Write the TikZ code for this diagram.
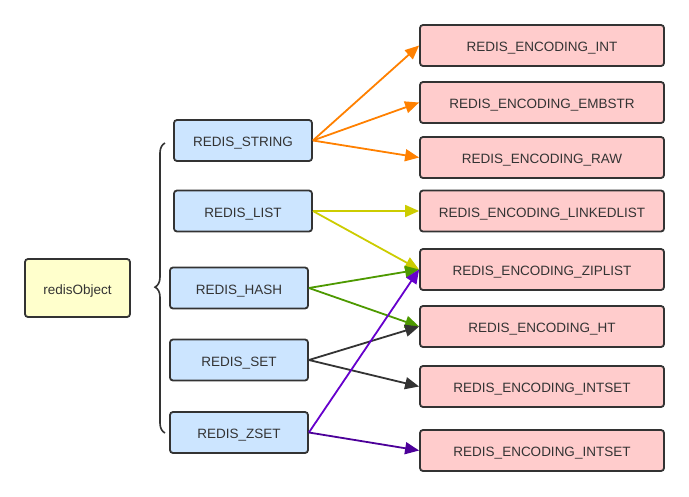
\documentclass[tikz,border=0pt]{standalone}
\usepackage{fontspec}
\setmainfont{Liberation Sans}
\usetikzlibrary{arrows.meta,decorations.pathreplacing}
\definecolor{txt}{HTML}{333333}
\definecolor{bd}{HTML}{333333}
\definecolor{bluef}{HTML}{CCE5FF}
\definecolor{pinkf}{HTML}{FFCCCC}
\definecolor{yelf}{HTML}{FFFFCC}
\definecolor{corange}{HTML}{FF8000}
\definecolor{cyellow}{HTML}{CCCC00}
\definecolor{cgreen}{HTML}{4D9900}
\definecolor{cdark}{HTML}{333333}
\definecolor{cpurple}{HTML}{6600CC}
\definecolor{cdpurple}{HTML}{4C0099}
\tikzset{
  box/.style={draw=bd, line width=1.8pt, rounded corners=3pt, text=txt,
    font=\fontsize{13.5}{15}\selectfont, inner sep=0pt, anchor=center,
    text height=12.4pt, text depth=0pt},
  typebox/.style={box, fill=bluef, minimum width=138pt, minimum height=41pt},
  encbox/.style={box, fill=pinkf, minimum width=244pt, minimum height=41pt},
  objbox/.style={box, fill=yelf, minimum width=105pt, minimum height=58pt},
  conn/.style={line width=1.8pt, -{Triangle[length=14pt,width=12pt]}},
}
\begin{document}
\begin{tikzpicture}[x=1pt,y=-1pt]
\useasboundingbox (0,0) rectangle (689,496);
\node[objbox] (obj) at (77.5,288) {redisObject};

\node[typebox] (str) at (243,140.5) {REDIS\_STRING};
\node[typebox] (lst) at (243,211) {REDIS\_LIST};
\node[typebox] (hash) at (239,288) {REDIS\_HASH};
\node[typebox] (set) at (239,360) {REDIS\_SET};
\node[typebox] (zset) at (239,432.5) {REDIS\_ZSET};

\node[encbox] (int) at (542,45.5) {REDIS\_ENCODING\_INT};
\node[encbox] (emb) at (542,102.5) {REDIS\_ENCODING\_EMBSTR};
\node[encbox] (raw) at (542,157.5) {REDIS\_ENCODING\_RAW};
\node[encbox] (ll) at (542,211) {REDIS\_ENCODING\_LINKEDLIST};
\node[encbox] (zip) at (542,269.5) {REDIS\_ENCODING\_ZIPLIST};
\node[encbox] (ht) at (542,326.5) {REDIS\_ENCODING\_HT};
\node[encbox] (is1) at (542,386.5) {REDIS\_ENCODING\_INTSET};
\node[encbox] (is2) at (542,450.5) {REDIS\_ENCODING\_INTSET};

% brace
\coordinate (bt) at (165,143);
\coordinate (bb) at (165,433);
\draw[line width=1.6pt, color=bd, decorate, decoration={brace, amplitude=10pt, aspect=0.503}]
  (bb) -- (bt);

\draw[conn, corange] (str.east) -- (int.west);
\draw[conn, corange] (str.east) -- (emb.west);
\draw[conn, corange] (str.east) -- (raw.west);
\draw[conn, cyellow] (lst.east) -- (ll.west);
\draw[conn, cyellow] (lst.east) -- (zip.west);
\draw[conn, cgreen] (hash.east) -- (zip.west);
\draw[conn, cgreen] (hash.east) -- (ht.west);
\draw[conn, cdark] (set.east) -- (ht.west);
\draw[conn, cdark] (set.east) -- (is1.west);
\draw[conn, cpurple] (zset.east) -- (zip.west);
\draw[conn, cdpurple] (zset.east) -- (is2.west);
\end{tikzpicture}
\end{document}
